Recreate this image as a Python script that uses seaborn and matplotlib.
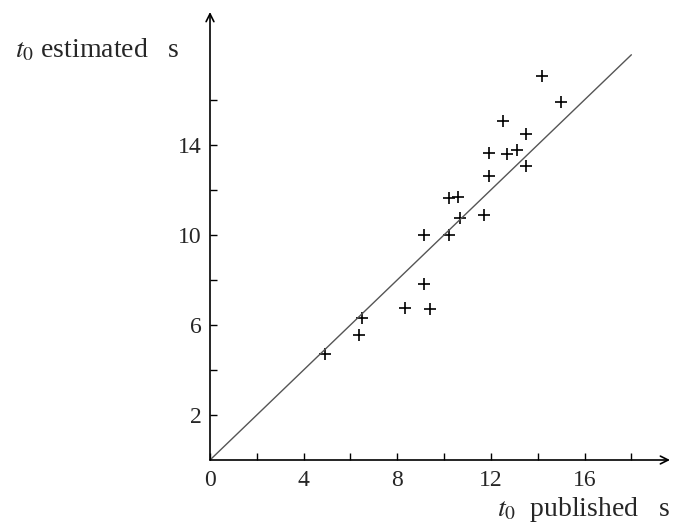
import matplotlib
matplotlib.use("Agg")
import matplotlib.pyplot as plt
import seaborn as sns
import pandas as pd

# published vs estimated t0 (s)
t0_published = [14.2, 15.0, 12.5, 13.5, 11.9, 12.7, 13.1, 13.5, 11.9, 10.2, 10.6,
                10.7, 11.7, 9.15, 10.2, 9.15, 8.35, 9.4, 6.5, 6.35, 4.9]
t0_estimated = [17.05, 15.9, 15.05, 14.5, 13.65, 13.6, 13.75, 13.05, 12.6, 11.65, 11.7,
                10.75, 10.9, 10.0, 10.0, 7.8, 6.75, 6.7, 6.3, 5.55, 4.7]

# reference line t0 estimated = t0 published
line_x = [0, 18]
line_y = [0, 18]

x_ticks = [0, 2, 4, 6, 8, 10, 12, 14, 16, 18]
x_tick_labels = ["0", "", "4", "", "8", "", "12", "", "16", ""]
y_ticks = [2, 4, 6, 8, 10, 12, 14, 16]
y_tick_labels = ["2", "", "6", "", "10", "", "14", ""]

df = pd.DataFrame({"published": t0_published, "estimated": t0_estimated})

sns.set_style("white")
plt.rcParams["font.family"] = ["Liberation Serif", "DejaVu Serif"]
plt.rcParams["mathtext.fontset"] = "stix"

fig = plt.figure(figsize=(6.75, 5.27), dpi=100)
ax = fig.add_axes([210 / 675, 67 / 527, 460 / 675, 448 / 527])

sns.lineplot(x=line_x, y=line_y, color="#555555", linewidth=1.0, ax=ax)
sns.scatterplot(data=df, x="published", y="estimated", marker="+", s=85,
                color="black", linewidth=1.2, ax=ax)

ax.set_xlim(0, 19.65)
ax.set_ylim(0, 19.9)
ax.set_xticks(x_ticks)
ax.set_xticklabels(x_tick_labels)
ax.set_yticks(y_ticks)
ax.set_yticklabels(y_tick_labels)
ax.tick_params(direction="in", length=5, width=1, labelsize=17, color="black",
               bottom=True, left=True)
ax.tick_params(axis="x", pad=7)
ax.tick_params(axis="y", pad=6)
ax.set_xlabel("")
ax.set_ylabel("")

for side in ["top", "right", "left", "bottom"]:
    ax.spines[side].set_visible(False)

# axes with open arrow heads
ax.annotate("", xy=(1, 0), xytext=(0, 0), xycoords="axes fraction",
            arrowprops=dict(arrowstyle="->", color="black", lw=1.2,
                            shrinkA=0, shrinkB=0, mutation_scale=14))
ax.annotate("", xy=(0, 1), xytext=(0, 0), xycoords="axes fraction",
            arrowprops=dict(arrowstyle="->", color="black", lw=1.2,
                            shrinkA=0, shrinkB=0, mutation_scale=14))

fig.text(15 / 675, 1 - 57 / 527, "$t_0$ estimated   s", fontsize=20,
         ha="left", va="baseline")
fig.text(670 / 675, 1 - 516 / 527, "$t_0$  published   s", fontsize=20,
         ha="right", va="baseline")

fig.savefig("out.png", dpi=100)
